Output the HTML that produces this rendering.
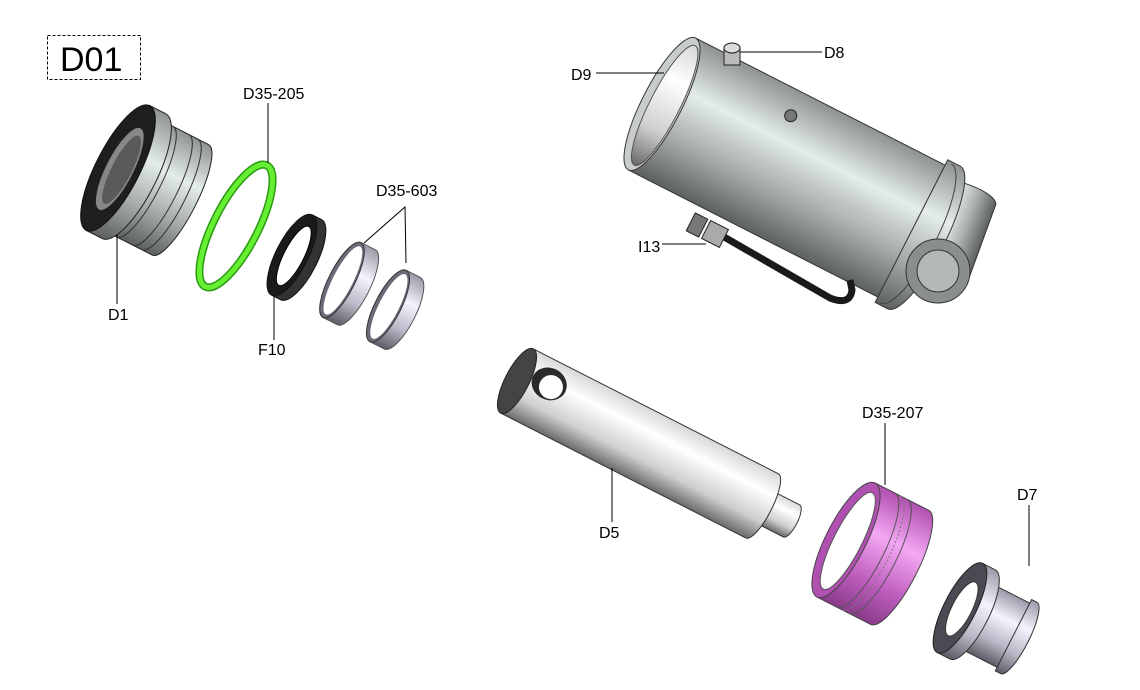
<!DOCTYPE html>
<html><head><meta charset="utf-8"><style>
html,body{margin:0;padding:0;background:#fff;}
svg{display:block;}
text{font-family:"Liberation Sans",sans-serif;font-size:16px;fill:#000;}
</style></head><body>
<svg width="1140" height="690" viewBox="0 0 1140 690" xmlns="http://www.w3.org/2000/svg">
<defs>
<linearGradient id="gray" x1="0" y1="0" x2="0" y2="1">
<stop offset="0" stop-color="#8e9292"/><stop offset="0.35" stop-color="#e4ecec"/><stop offset="0.7" stop-color="#a2a6a6"/><stop offset="1" stop-color="#5c6060"/></linearGradient>
<linearGradient id="white" x1="0" y1="0" x2="0" y2="1">
<stop offset="0" stop-color="#d8d8d8"/><stop offset="0.3" stop-color="#ffffff"/><stop offset="0.7" stop-color="#cfcfcf"/><stop offset="1" stop-color="#6a6a6a"/></linearGradient>
<linearGradient id="mag" x1="0" y1="0" x2="0" y2="1">
<stop offset="0" stop-color="#b050b0"/><stop offset="0.35" stop-color="#f4a8f4"/><stop offset="0.7" stop-color="#c060c0"/><stop offset="1" stop-color="#8a3a8a"/></linearGradient>
<linearGradient id="lblue" x1="0" y1="0" x2="0" y2="1">
<stop offset="0" stop-color="#9a9aa8"/><stop offset="0.35" stop-color="#f4f4ff"/><stop offset="0.7" stop-color="#b8b8c6"/><stop offset="1" stop-color="#5c5c66"/></linearGradient>
</defs>

<rect x="47.5" y="35.5" width="93" height="44" fill="none" stroke="#000" stroke-dasharray="3,2"/>
<text x="60" y="71" style="font-size:34px">D01</text>

<!-- D1 -->
<g transform="translate(118,168) rotate(27)">
<path d="M0,-62 L70,-62 A16,62 0 0 1 70,62 L0,62 Z" fill="url(#gray)" stroke="#222"/>
<path d="M30,-62 A16,62 0 0 1 30,62" fill="none" stroke="#333"/>
<path d="M48,-62 A16,62 0 0 1 48,62" fill="none" stroke="#333"/>
<path d="M58,-62 A16,62 0 0 1 58,62" fill="none" stroke="#333"/>
<path d="M0,-70 L18,-70 A22,70 0 0 1 18,70 L0,70 Z" fill="url(#gray)" stroke="#222"/>
<ellipse cx="0" cy="0" rx="22" ry="70" fill="#1e1e1e" stroke="#111"/>
<ellipse cx="2" cy="0" rx="14" ry="46" fill="#888" stroke="#222"/>
<ellipse cx="4" cy="0" rx="10" ry="38" fill="#5a5a5a"/>
</g>
<line x1="117" y1="235" x2="117" y2="304" stroke="#000"/>
<text x="108" y="320">D1</text>

<g transform="translate(236,226) rotate(27)">
<ellipse cx="0" cy="0" rx="22" ry="68" fill="none" stroke="#2a9a10" stroke-width="8"/>
<ellipse cx="0" cy="0" rx="22" ry="68" fill="none" stroke="#66ee33" stroke-width="5"/>
</g>
<line x1="268" y1="103" x2="268" y2="163" stroke="#000"/>
<text x="243" y="99">D35-205</text>

<g transform="translate(292,255) rotate(27)">
<path d="M0,-45 L10,-45 A16,45 0 0 1 10,45 L0,45 Z" fill="#333" stroke="#111"/>
<ellipse cx="0" cy="0" rx="16" ry="45" fill="#1a1a1a" stroke="#111"/>
<ellipse cx="2" cy="0" rx="10" ry="33" fill="#fff" stroke="#000"/>
</g>
<line x1="274" y1="296" x2="274" y2="340" stroke="#000"/>
<text x="258" y="355">F10</text>

<g transform="translate(342,280) rotate(27)">
<path d="M0,-42 L16,-42 A13,42 0 0 1 16,42 L0,42 Z" fill="url(#lblue)" stroke="#555"/>
<ellipse cx="0" cy="0" rx="13" ry="42" fill="#6a6a78" stroke="#333"/>
<ellipse cx="1" cy="0" rx="10" ry="38" fill="#fff"/>
</g>
<g transform="translate(388,306) rotate(27)">
<path d="M0,-40 L16,-40 A13,40 0 0 1 16,40 L0,40 Z" fill="url(#lblue)" stroke="#555"/>
<ellipse cx="0" cy="0" rx="13" ry="40" fill="#6a6a78" stroke="#333"/>
<ellipse cx="1" cy="0" rx="10" ry="36" fill="#fff"/>
</g>
<polyline points="364,243 405,207 406,263" fill="none" stroke="#000"/>
<text x="376" y="196">D35-603</text>

<!-- D9 -->
<g transform="translate(940,270) rotate(-70)">
<path d="M0,-30 L80,-30 A10,30 0 0 1 80,30 L0,30 Z" fill="url(#gray)" stroke="#333"/>
</g>
<g transform="translate(662,104) rotate(27)">
<path d="M0,-74 L285,-74 A20,74 0 0 1 285,74 L0,74 Z" fill="url(#gray)" stroke="#333"/>
<path d="M280,-80 L294,-80 A21,80 0 0 1 294,80 L280,80 Z" fill="url(#gray)" stroke="#333"/>
<path d="M285,-78 A21,78 0 0 1 285,78" fill="none" stroke="#444"/>
<ellipse cx="0" cy="0" rx="20" ry="74" fill="#c8cccc" stroke="#333"/>
<ellipse cx="3" cy="0" rx="15" ry="67" fill="url(#white)" stroke="#555"/>
<circle cx="120" cy="-48" r="6" fill="#777" stroke="#222"/>
</g>
<circle cx="938" cy="271" r="32" fill="#8a8e8e" stroke="#333"/>
<circle cx="938" cy="271" r="21" fill="#b4b8b8" stroke="#333"/>
<path d="M712,230 L830,298 Q850,306 852,290 L850,280" fill="none" stroke="#1a1a1a" stroke-width="7"/>
<rect x="690" y="215" width="14" height="20" fill="#777" stroke="#222" transform="rotate(27 697 225)"/>
<rect x="705" y="224" width="20" height="20" fill="#aaa" stroke="#222" transform="rotate(27 715 234)"/>
<rect x="724" y="47" width="16" height="18" fill="#bbb" stroke="#222"/>
<ellipse cx="732" cy="48" rx="8" ry="5" fill="#ddd" stroke="#222"/>
<line x1="740" y1="52" x2="822" y2="52" stroke="#000"/>
<text x="824" y="58">D8</text>
<line x1="596" y1="73" x2="664" y2="73" stroke="#000"/>
<text x="571" y="80">D9</text>
<line x1="662" y1="244" x2="706" y2="244" stroke="#000"/>
<text x="638" y="252">I13</text>

<!-- D5 -->
<g transform="translate(517,381) rotate(27)">
<path d="M270,-18 L308,-18 A6,18 0 0 1 308,18 L270,18 Z" fill="url(#white)" stroke="#333"/>
<path d="M0,-36 L275,-36 A10,36 0 0 1 275,36 L0,36 Z" fill="url(#white)" stroke="#333"/>
<ellipse cx="0" cy="0" rx="12" ry="36" fill="#444" stroke="#222"/>
<ellipse cx="30" cy="-12" rx="18" ry="16" fill="#2a2a2a"/>
<ellipse cx="33" cy="-10" rx="12" ry="12" fill="#fff"/>
</g>
<line x1="612" y1="468" x2="612" y2="522" stroke="#000"/>
<text x="599" y="538">D5</text>

<!-- D35-207 -->
<g transform="translate(846,540) rotate(27)">
<path d="M0,-64 L60,-64 A18,64 0 0 1 60,64 L0,64 Z" fill="url(#mag)" stroke="#444"/>
<path d="M22,-64 A18,64 0 0 1 22,64" fill="none" stroke="#555"/>
<path d="M28,-64 A18,64 0 0 1 28,64" fill="none" stroke="#777" stroke-dasharray="2,2"/>
<path d="M36,-64 A18,64 0 0 1 36,64" fill="none" stroke="#555"/>
<ellipse cx="0" cy="0" rx="20" ry="64" fill="#b050b0" stroke="#444"/>
<ellipse cx="2" cy="0" rx="14" ry="54" fill="#fff" stroke="#555"/>
</g>
<line x1="885" y1="423" x2="885" y2="485" stroke="#000"/>
<text x="862" y="418">D35-207</text>

<!-- D7 -->
<g transform="translate(960,608) rotate(27)">
<path d="M0,-36 L60,-36 A9,36 0 0 1 60,36 L0,36 Z" fill="url(#lblue)" stroke="#333"/>
<path d="M60,-40 L66,-40 A10,40 0 0 1 66,40 L60,40 Z" fill="url(#lblue)" stroke="#333"/>
<path d="M0,-50 L14,-50 A16,50 0 0 1 14,50 L0,50 Z" fill="url(#lblue)" stroke="#333"/>
<ellipse cx="0" cy="0" rx="16" ry="50" fill="#4a4a52" stroke="#222"/>
<ellipse cx="2" cy="0" rx="10" ry="30" fill="#fff" stroke="#333"/>
</g>
<line x1="1029" y1="505" x2="1029" y2="566" stroke="#000"/>
<text x="1017" y="500">D7</text>
</svg>
</body></html>
